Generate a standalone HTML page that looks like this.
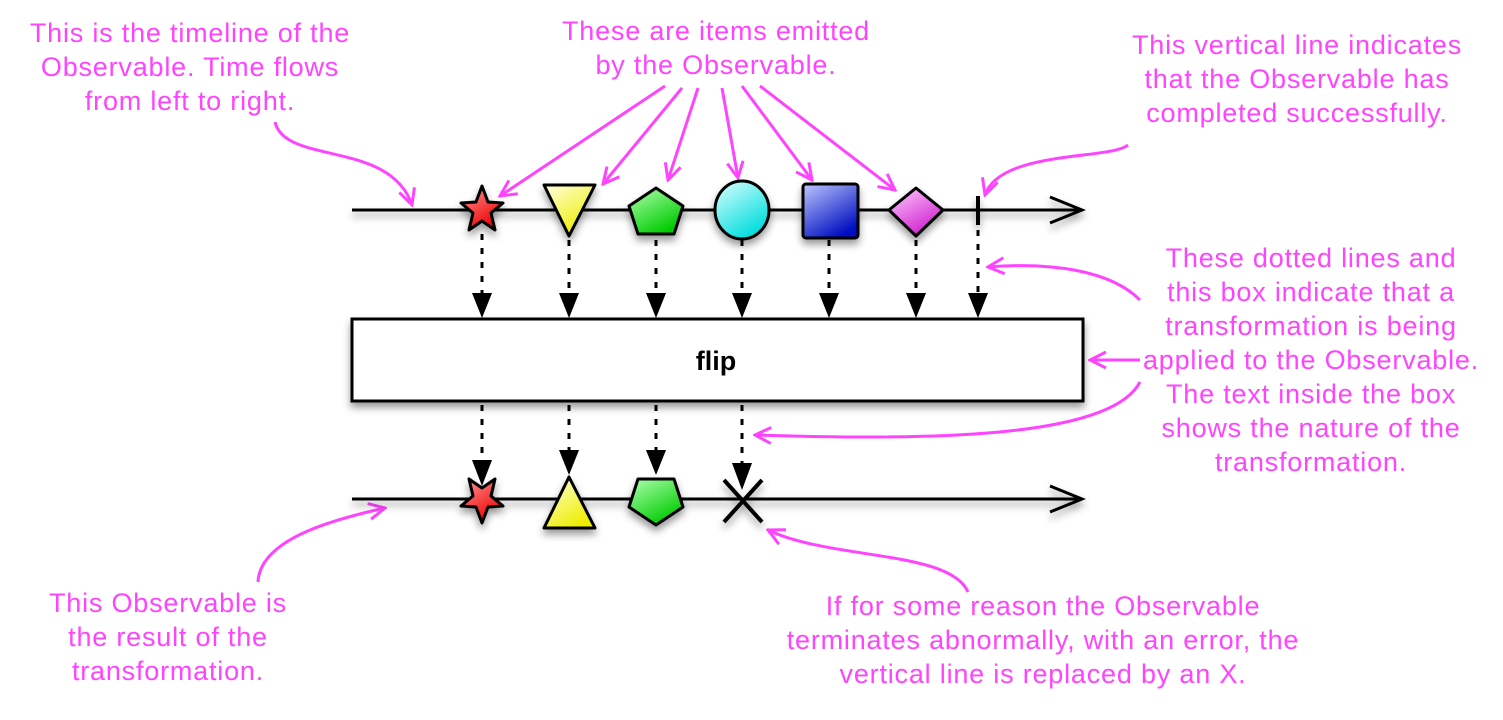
<!DOCTYPE html>
<html><head><meta charset="utf-8"><style>
body{margin:0;background:#fff;width:1503px;height:715px;overflow:hidden}
text{font-family:"Liberation Sans",sans-serif}
.t{fill:#ff44ff;font-size:27px;letter-spacing:0.8px;text-anchor:middle}
.p{fill:none;stroke:#ff44ff;stroke-width:3}
.d{stroke:#000;stroke-width:3;stroke-dasharray:6,8}
</style></head><body>
<svg width="1503" height="715" viewBox="0 0 1503 715" xmlns="http://www.w3.org/2000/svg">
<defs>
<marker id="pa" viewBox="0 0 20 20" refX="18" refY="10" markerWidth="20" markerHeight="20" markerUnits="userSpaceOnUse" orient="auto"><path d="M2,2 L18,10 L2,18" fill="none" stroke="#ff44ff" stroke-width="3"/></marker>
<filter id="sh" x="-30%" y="-30%" width="160%" height="180%"><feDropShadow dx="0" dy="5" stdDeviation="4" flood-opacity="0.4"/></filter>
<linearGradient id="gr" x1="0" y1="0" x2="0.6" y2="1"><stop offset="0" stop-color="#ff9a9a"/><stop offset="1" stop-color="#e00"/></linearGradient>
<linearGradient id="gy" x1="0" y1="0" x2="0.6" y2="1"><stop offset="0" stop-color="#ffffe0"/><stop offset="1" stop-color="#ee0"/></linearGradient>
<linearGradient id="gg" x1="0" y1="0" x2="0.6" y2="1"><stop offset="0" stop-color="#b0ffb0"/><stop offset="1" stop-color="#0c0"/></linearGradient>
<linearGradient id="gc" x1="0" y1="0" x2="0.6" y2="1"><stop offset="0" stop-color="#e0ffff"/><stop offset="1" stop-color="#0dd"/></linearGradient>
<linearGradient id="gb" x1="0" y1="0" x2="0.6" y2="1"><stop offset="0" stop-color="#c0c8ff"/><stop offset="1" stop-color="#0010c0"/></linearGradient>
<linearGradient id="gm" x1="0" y1="0" x2="0.6" y2="1"><stop offset="0" stop-color="#ffd0ff"/><stop offset="1" stop-color="#d020d0"/></linearGradient>
</defs>

<text class="t" x="190" y="42">This is the timeline of the</text>
<text class="t" x="190" y="76">Observable. Time flows</text>
<text class="t" x="190" y="110">from left to right.</text>
<text class="t" x="716" y="40">These are items emitted</text>
<text class="t" x="716" y="74">by the Observable.</text>
<text class="t" x="1297" y="54">This vertical line indicates</text>
<text class="t" x="1297" y="88">that the Observable has</text>
<text class="t" x="1297" y="122">completed successfully.</text>
<text class="t" x="1311" y="267">These dotted lines and</text>
<text class="t" x="1311" y="301">this box indicate that a</text>
<text class="t" x="1311" y="335">transformation is being</text>
<text class="t" x="1311" y="369">applied to the Observable.</text>
<text class="t" x="1311" y="403">The text inside the box</text>
<text class="t" x="1311" y="437">shows the nature of the</text>
<text class="t" x="1311" y="471">transformation.</text>
<text class="t" x="168" y="612">This Observable is</text>
<text class="t" x="168" y="646">the result of the</text>
<text class="t" x="168" y="680">transformation.</text>
<text class="t" x="1043" y="615">If for some reason the Observable</text>
<text class="t" x="1043" y="649">terminates abnormally, with an error, the</text>
<text class="t" x="1043" y="683">vertical line is replaced by an X.</text>

<path class="p" marker-end="url(#pa)" d="M275,122 C285,165 390,140 412,205"/>
<path class="p" marker-end="url(#pa)" d="M665,86 L500,196"/>
<path class="p" marker-end="url(#pa)" d="M682,88 L603,184"/>
<path class="p" marker-end="url(#pa)" d="M698,88 L668,180"/>
<path class="p" marker-end="url(#pa)" d="M722,88 L738,178"/>
<path class="p" marker-end="url(#pa)" d="M742,86 L812,180"/>
<path class="p" marker-end="url(#pa)" d="M760,86 L895,190"/>
<path class="p" marker-end="url(#pa)" d="M1128,145 C1110,160 1000,150 985,195"/>
<path class="p" marker-end="url(#pa)" d="M1140,300 C1110,270 1050,262 988,267"/>
<path class="p" marker-end="url(#pa)" d="M1140,360 L1090,360"/>
<path class="p" marker-end="url(#pa)" d="M1140,382 C1110,440 920,440 755,435"/>
<path class="p" marker-end="url(#pa)" d="M258,582 C260,540 330,520 385,508"/>
<path class="p" marker-end="url(#pa)" d="M968,592 C950,550 830,560 768,530"/>

<g filter="url(#sh)">
<line x1="352" y1="210" x2="1080" y2="210" stroke="#000" stroke-width="3"/>
<path d="M1050,197 L1082,210 L1050,223" fill="none" stroke="#000" stroke-width="3"/>
<line x1="978" y1="196" x2="978" y2="225" stroke="#000" stroke-width="4"/>
</g>
<g>
<line class="d" x1="482" y1="234" x2="482" y2="295"/>
<line class="d" x1="569" y1="240" x2="569" y2="295"/>
<line class="d" x1="656" y1="240" x2="656" y2="295"/>
<line class="d" x1="742" y1="240" x2="742" y2="295"/>
<line class="d" x1="829" y1="240" x2="829" y2="295"/>
<line class="d" x1="916" y1="240" x2="916" y2="295"/>
<line class="d" x1="978" y1="230" x2="978" y2="295"/>
<path d="M472,293 L492,293 L482,318Z M559,293 L579,293 L569,318Z M646,293 L666,293 L656,318Z M732,293 L752,293 L742,318Z M819,293 L839,293 L829,318Z M906,293 L926,293 L916,318Z M968,293 L988,293 L978,318Z"/>
</g>
<g filter="url(#sh)" stroke="#000" stroke-width="3" stroke-linejoin="round">
<path fill="url(#gr)" d="M482,186 L488,202 L503,203 L491,213 L495,230 L482,221 L469,230 L473,213 L461,203 L476,202Z"/>
<path fill="url(#gy)" d="M544,185 L595,185 L569,236Z"/>
<path fill="url(#gg)" d="M656,188 L683,206 L674,234 L638,234 L629,206Z"/>
<ellipse fill="url(#gc)" cx="742" cy="210" rx="27" ry="29"/>
<rect fill="url(#gb)" x="803" y="184" width="55" height="54" rx="3"/>
<path fill="url(#gm)" d="M916,188 L943,210 L916,236 L889,210Z"/>
</g>

<rect x="352" y="319" width="731" height="82" fill="#fff" stroke="#000" stroke-width="3" filter="url(#sh)"/>
<text x="716" y="370" font-size="27" font-weight="bold" text-anchor="middle">flip</text>

<line class="d" x1="482" y1="405" x2="482" y2="462"/>
<line class="d" x1="569" y1="405" x2="569" y2="452"/>
<line class="d" x1="656" y1="405" x2="656" y2="452"/>
<line class="d" x1="742" y1="405" x2="742" y2="465"/>
<path d="M472,460 L492,460 L482,486Z M559,450 L579,450 L569,475Z M646,450 L666,450 L656,475Z M732,463 L752,463 L742,490Z"/>

<g filter="url(#sh)">
<line x1="352" y1="499" x2="1080" y2="499" stroke="#000" stroke-width="3"/>
<path d="M1050,486 L1082,499 L1050,512" fill="none" stroke="#000" stroke-width="3"/>
<path d="M724,480 L762,522 M762,480 L724,522" stroke="#000" stroke-width="4"/>
</g>
<g filter="url(#sh)" stroke="#000" stroke-width="3" stroke-linejoin="round">
<path fill="url(#gr)" d="M482,523 L488,507 L503,506 L491,496 L495,479 L482,488 L469,479 L473,496 L461,506 L476,507Z"/>
<path fill="url(#gy)" d="M544,528 L595,528 L569,477Z"/>
<path fill="url(#gg)" d="M656,525 L683,507 L674,479 L638,479 L629,507Z"/>
</g>
</svg>
</body></html>
